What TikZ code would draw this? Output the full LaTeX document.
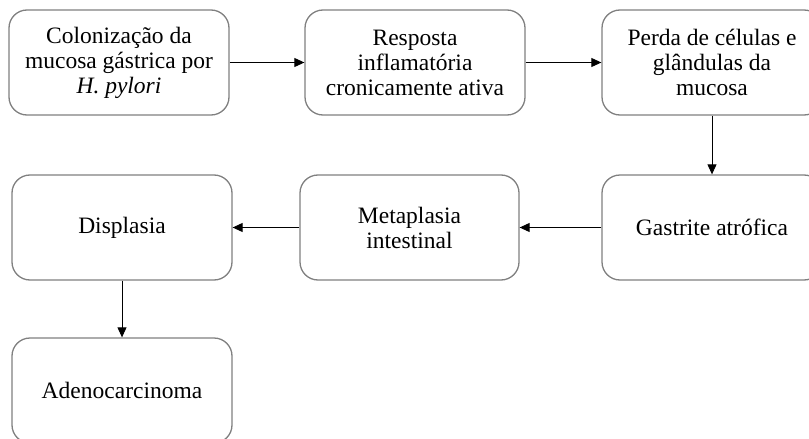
\documentclass[tikz,border=0pt]{standalone}
\usepackage{fontspec}
\setmainfont{Liberation Serif}
\usetikzlibrary{arrows.meta}
\tikzset{
  stagebox/.style={draw=black!50, line width=1.3pt, rounded corners=18pt, fill=white,
    minimum width=220pt, minimum height=105pt, align=center,
    font=\fontsize{23.5pt}{25pt}\selectfont, inner sep=0pt, anchor=center},
  flowarrow/.style={draw=black, line width=0.9pt, -{Triangle[length=10pt,width=9pt]}}
}
\begin{document}
\begin{tikzpicture}[x=1pt,y=-1pt]
\useasboundingbox (0,0) rectangle (809,439);
\begin{scope}
\clip (0,0) rectangle (809,439);
\node[stagebox] (b1) at (119,62.5) {Colonização da\\mucosa gástrica por\\\textit{H. pylori}};
\node[stagebox] (b2) at (415,62.5) {Resposta\\inflamatória\\cronicamente ativa};
\node[stagebox] (b3) at (712,62.5) {Perda de células e\\glândulas da\\mucosa};
\node[stagebox] (b4) at (712,227.5) {Gastrite atrófica};
\node[stagebox, minimum width=219pt] (b5) at (409.5,227.5) {Metaplasia\\intestinal};
\node[stagebox] (b6) at (122,227.5) {Displasia};
\node[stagebox] (b7) at (122,390.5) {Adenocarcinoma};
\draw[flowarrow] (b1.east) -- (b2.west);
\draw[flowarrow] (b2.east) -- (b3.west);
\draw[flowarrow] (b3.south) -- (b4.north);
\draw[flowarrow] (b4.west) -- (b5.east);
\draw[flowarrow] (b5.west) -- (b6.east);
\draw[flowarrow] (b6.south) -- (b7.north);
\end{scope}
\end{tikzpicture}
\end{document}
